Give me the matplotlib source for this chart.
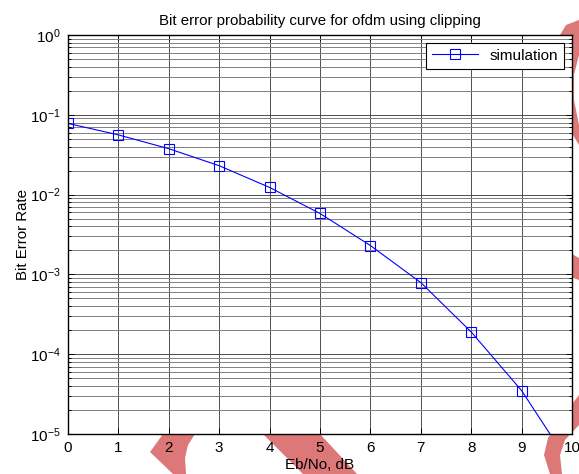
import matplotlib
matplotlib.use("Agg")
import matplotlib.pyplot as plt
from matplotlib.patches import Polygon
from matplotlib.ticker import LogLocator, NullFormatter

plt.rcParams['font.family'] = ['Liberation Sans', 'DejaVu Sans']
plt.rcParams['axes.unicode_minus'] = False

# data
ebno = [0, 1, 2, 3, 4, 5, 6, 7, 8, 9, 10]
ber = [0.078, 0.056, 0.0376, 0.023, 0.0123, 0.0058, 0.0023, 0.00079, 0.00019, 0.000035, 0.0000038]

W, H = 579, 474
fig = plt.figure(figsize=(W / 100, H / 100), dpi=100)

# red watermark shapes behind the axes (pixel coords, y from top)
shapes = [
    [(163, 434), (195, 434), (188, 445), (185, 458), (186, 474), (173, 474), (150, 452)],
    [(263, 434), (320, 434), (357, 474), (303, 474)],
    [(579, 395), (579, 425), (565, 440), (560, 455), (562, 474), (550, 474), (544, 455), (548, 438), (560, 420)],
    [(565, 250), (579, 258), (579, 280), (565, 275)],
    [(560, 35), (566, 25), (579, 20), (579, 55), (574, 75), (574, 100), (579, 125), (579, 145), (570, 130), (562, 90)],
]
for pts in shapes:
    fig.patches.append(Polygon([(x / W, 1 - y / H) for x, y in pts], closed=True,
                               transform=fig.transFigure, facecolor='#dc7878',
                               edgecolor='none', zorder=0))

ax = fig.add_axes([68 / W, 1 - 434 / H, (572 - 68) / W, (434 - 35) / H])
ax.set_zorder(1)

ax.semilogy(ebno, ber, color='blue', linewidth=0.8, marker='s', markersize=6.5,
            markerfacecolor='none', markeredgecolor='blue', markeredgewidth=0.8,
            label='simulation', clip_on=True)

ax.set_xlim(0, 10)
ax.set_ylim(1e-5, 1)
ax.set_xticks(range(0, 11))
ax.yaxis.set_major_locator(LogLocator(base=10, numticks=10))
ax.yaxis.set_minor_locator(LogLocator(base=10, subs=range(2, 10), numticks=10))
ax.yaxis.set_minor_formatter(NullFormatter())

ax.grid(True, which='major', color='0.2', linewidth=0.6)
ax.grid(True, which='minor', axis='y', color='0.5', linewidth=0.7)
ax.set_axisbelow(True)

ax.tick_params(which='both', direction='in', top=True, right=True, labelsize=11, width=0.7)
ax.tick_params(which='major', length=4, pad=5)
ax.tick_params(which='minor', length=2.5)
for s in ax.spines.values():
    s.set_linewidth(1.0)

ax.set_title('Bit error probability curve for ofdm using clipping', fontsize=10.8, pad=7)
ax.set_xlabel('Eb/No, dB', fontsize=11, labelpad=2)
ax.set_ylabel('Bit Error Rate', fontsize=10.8, labelpad=0)

leg = ax.legend(loc='upper right', fontsize=11, fancybox=False, framealpha=1,
                edgecolor='black', borderaxespad=0.5, handlelength=3,
                borderpad=0.4)
leg.get_frame().set_linewidth(0.8)

fig.savefig('out.png', dpi=100)
